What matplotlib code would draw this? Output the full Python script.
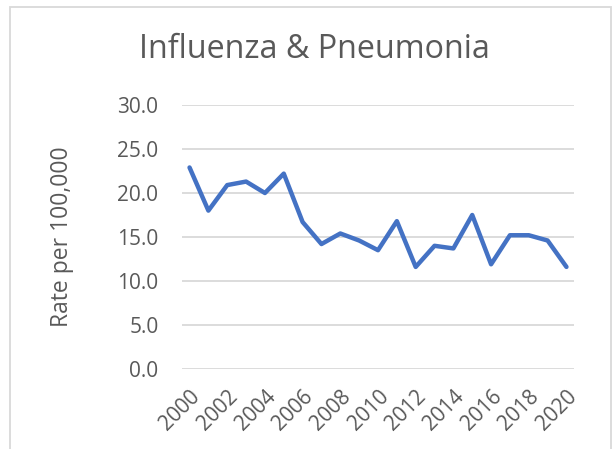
import matplotlib.pyplot as plt
from matplotlib.patches import Rectangle

years = list(range(2000, 2021))
rates = [22.9, 18.0, 20.9, 21.3, 20.0, 22.2, 16.7, 14.2, 15.4, 14.6, 13.5,
         16.8, 11.6, 14.0, 13.7, 17.5, 11.9, 15.2, 15.2, 14.6, 11.6]
y_ticks = [0, 5, 10, 15, 20, 25, 30]
x_labels = years[::2]

plt.rcParams["font.family"] = ["Open Sans", "DejaVu Sans"]
gray = "#595959"

fig = plt.figure(figsize=(6.13, 4.49), dpi=100)
ax = fig.add_axes([182 / 613, 1 - 369 / 449, (574 - 182) / 613, (369 - 105) / 449])

ax.plot(years, rates, color="#4472C4", linewidth=3.2, solid_capstyle="round",
        solid_joinstyle="round")

ax.set_ylim(0, 30)
ax.set_xlim(1999.6, 2020.4)
ax.set_yticks(y_ticks)
ax.set_yticklabels([f"{v:.1f}" for v in y_ticks])
ax.set_xticks(x_labels)
ax.set_xticklabels([str(y) for y in x_labels], rotation=45, ha="right",
                   rotation_mode="anchor")
ax.tick_params(axis="both", length=0, labelsize=15, colors=gray)
ax.tick_params(axis="x", pad=12)
ax.tick_params(axis="y", pad=17)
ax.grid(axis="y", color="#d9d9d9", linewidth=1.3)
ax.set_axisbelow(True)
for s in ax.spines.values():
    s.set_visible(False)

ax.set_ylabel("Rate per 100,000", fontsize=16.5, color=gray, va="center")
ax.yaxis.set_label_coords((62 - 182) / 392, 0.5)
fig.text(314 / 613, 1 - 50 / 449, "Influenza & Pneumonia", fontsize=23.2,
         color=gray, ha="center", va="center")

# chart border
fig.patches.append(Rectangle((10 / 613, -0.1), 601 / 613, 1.1 - 7 / 449,
                             transform=fig.transFigure, fill=False,
                             edgecolor="#d9d9d9", linewidth=1.3))

fig.savefig("out.png", dpi=100)
